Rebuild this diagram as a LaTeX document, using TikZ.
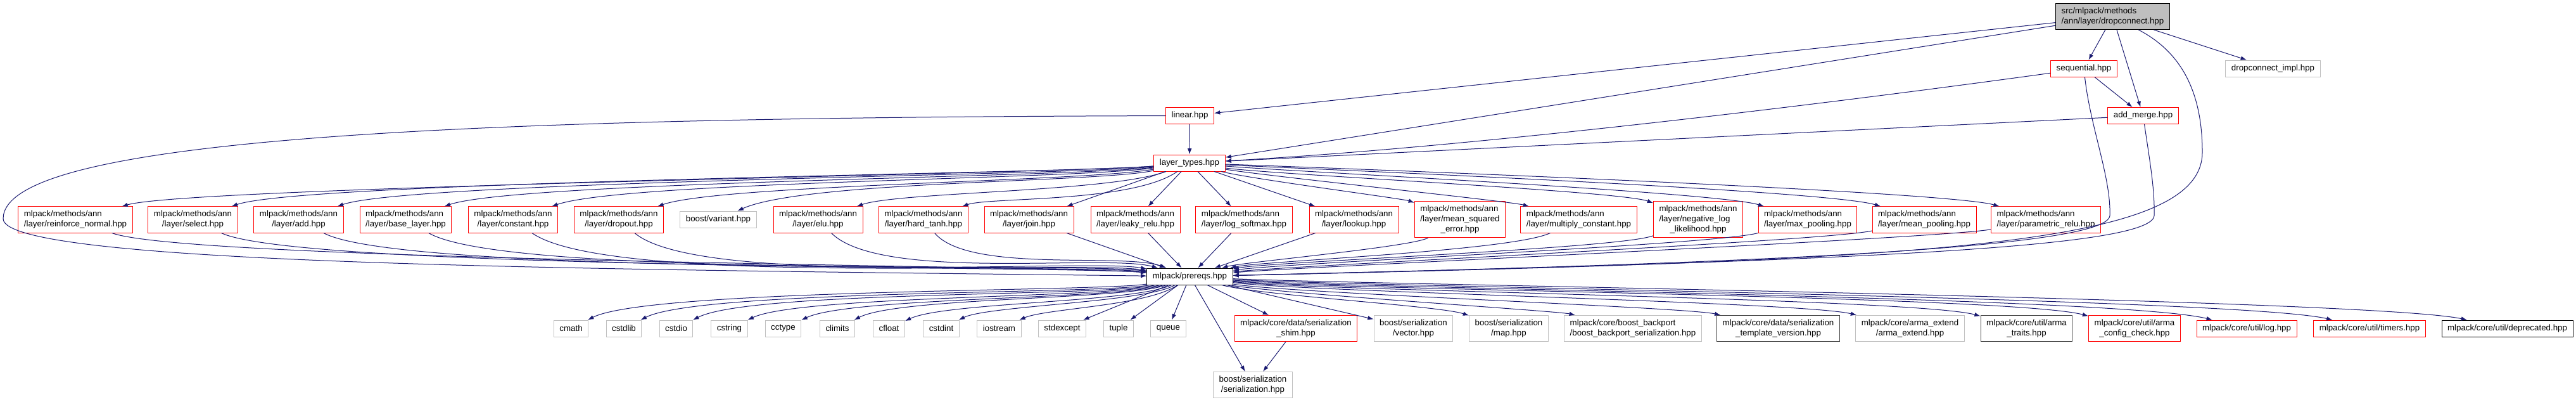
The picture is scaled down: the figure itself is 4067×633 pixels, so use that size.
\documentclass[tikz,border=0pt]{standalone}
\usepackage{fontspec}
\setmainfont{Liberation Sans}
\usetikzlibrary{arrows.meta}

\definecolor{edgeblue}{HTML}{191970}
\definecolor{boxgray}{HTML}{BFBFBF}
\definecolor{boxdark}{HTML}{404040}

% labels: upper lines left, last line centred
\newcommand{\lbltwo}[2]{\begin{tabular}{@{}l@{}}#1\\\multicolumn{1}{@{}c@{}}{#2}\end{tabular}}
\newcommand{\lblthree}[3]{\begin{tabular}{@{}l@{}}#1\\#2\\\multicolumn{1}{@{}c@{}}{#3}\end{tabular}}

\begin{document}
\begin{tikzpicture}[
x=0.75pt, y=0.75pt,
>={Latex[length=7pt,width=5pt]},
every node/.style={
draw,
fill=white,
line width=0.75pt,
font=\fontsize{10}{12}\selectfont,
inner xsep=6.75pt,
inner ysep=3.4pt,
minimum height=19.5pt
},
redbox/.style={draw=red},
graybox/.style={draw=boxgray},
darkbox/.style={draw=boxdark},
rootbox/.style={fill=boxgray, draw=black},
incl/.style={->, draw=edgeblue, line width=0.75pt}
]
\useasboundingbox (0,0) rectangle (4067,-633);

\node[rootbox] (root) at (3335.5,-26) {\lbltwo{src/mlpack/methods}{/ann/layer/dropconnect.hpp}};

\node[redbox] (seq) at (3290,-108) {sequential.hpp};
\node[graybox] (dci) at (3588.5,-108) {dropconnect\_impl.hpp};
\node[redbox] (am) at (3383.5,-182.5) {add\_merge.hpp};

\node[redbox] (lin) at (1878.5,-182.5) {linear.hpp};
\node[redbox] (lt) at (1878,-257) {layer\_types.hpp};

\node[redbox] (rn) at (119,-346.5) {\lbltwo{mlpack/methods/ann}{/layer/reinforce\_normal.hpp}};
\node[redbox] (sel) at (304.5,-346.5) {\lbltwo{mlpack/methods/ann}{/layer/select.hpp}};
\node[redbox] (add) at (471.5,-346.5) {\lbltwo{mlpack/methods/ann}{/layer/add.hpp}};
\node[redbox] (base) at (640.5,-346.5) {\lbltwo{mlpack/methods/ann}{/layer/base\_layer.hpp}};
\node[redbox] (cons) at (810,-346.5) {\lbltwo{mlpack/methods/ann}{/layer/constant.hpp}};
\node[redbox] (drop) at (977,-346.5) {\lbltwo{mlpack/methods/ann}{/layer/dropout.hpp}};
\node[graybox] (var) at (1134,-346) {boost/variant.hpp};
\node[redbox] (elu) at (1291.5,-346.5) {\lbltwo{mlpack/methods/ann}{/layer/elu.hpp}};
\node[redbox] (ht) at (1458,-346.5) {\lbltwo{mlpack/methods/ann}{/layer/hard\_tanh.hpp}};
\node[redbox] (join) at (1624.5,-346.5) {\lbltwo{mlpack/methods/ann}{/layer/join.hpp}};
\node[redbox] (lrelu) at (1792.5,-346.5) {\lbltwo{mlpack/methods/ann}{/layer/leaky\_relu.hpp}};
\node[redbox] (lsm) at (1964,-346.5) {\lbltwo{mlpack/methods/ann}{/layer/log\_softmax.hpp}};
\node[redbox] (lkp) at (2137.5,-346.5) {\lbltwo{mlpack/methods/ann}{/layer/lookup.hpp}};
\node[redbox] (mse) at (2305,-346) {\lblthree{mlpack/methods/ann}{/layer/mean\_squared}{\_error.hpp}};
\node[redbox] (mulc) at (2492.5,-346.5) {\lbltwo{mlpack/methods/ann}{/layer/multiply\_constant.hpp}};
\node[redbox] (nll) at (2681,-346) {\lblthree{mlpack/methods/ann}{/layer/negative\_log}{\_likelihood.hpp}};
\node[redbox] (maxp) at (2854,-346.5) {\lbltwo{mlpack/methods/ann}{/layer/max\_pooling.hpp}};
\node[redbox] (meanp) at (3038,-346.5) {\lbltwo{mlpack/methods/ann}{/layer/mean\_pooling.hpp}};
\node[redbox] (prelu) at (3230,-346.5) {\lbltwo{mlpack/methods/ann}{/layer/parametric\_relu.hpp}};

\node[draw=black] (pr) at (1878.5,-436) {mlpack/prereqs.hpp};

\node[graybox] (cmath) at (901.5,-518) {cmath};
\node[graybox] (cstdlib) at (985,-518) {cstdlib};
\node[graybox] (cstdio) at (1067.5,-518) {cstdio};
\node[graybox] (cstring) at (1151.5,-518) {cstring};
\node[graybox] (cctype) at (1236.5,-518) {cctype};
\node[graybox] (climits) at (1322,-518) {climits};
\node[graybox] (cfloat) at (1403.5,-518) {cfloat};
\node[graybox] (cstdint) at (1486,-518) {cstdint};
\node[graybox] (iostream) at (1577.5,-518) {iostream};
\node[graybox] (stdexc) at (1677,-518) {stdexcept};
\node[graybox] (tuple) at (1766,-518) {tuple};
\node[graybox] (queue) at (1844.5,-518) {queue};
\node[redbox] (shim) at (2046,-518) {\lbltwo{mlpack/core/data/serialization}{\_shim.hpp}};
\node[graybox] (vec) at (2231.5,-518) {\lbltwo{boost/serialization}{/vector.hpp}};
\node[graybox] (map) at (2382,-518) {\lbltwo{boost/serialization}{/map.hpp}};
\node[graybox] (bbs) at (2578,-518) {\lbltwo{mlpack/core/boost\_backport}{/boost\_backport\_serialization.hpp}};
\node[darkbox] (stv) at (2807.5,-518) {\lbltwo{mlpack/core/data/serialization}{\_template\_version.hpp}};
\node[graybox] (ae) at (3015.5,-518) {\lbltwo{mlpack/core/arma\_extend}{/arma\_extend.hpp}};
\node[darkbox] (atr) at (3199.5,-518) {\lbltwo{mlpack/core/util/arma}{\_traits.hpp}};
\node[redbox] (acc) at (3370,-518) {\lbltwo{mlpack/core/util/arma}{\_config\_check.hpp}};
\node[redbox] (log) at (3547,-518) {mlpack/core/util/log.hpp};
\node[redbox] (timers) at (3741,-518) {mlpack/core/util/timers.hpp};
\node[draw=black] (depr) at (3958.5,-518) {mlpack/core/util/deprecated.hpp};

\node[graybox] (ser) at (1978,-607) {\lbltwo{boost/serialization}{/serialization.hpp}};

% top part
\draw[incl] (root) -- (lin);
\draw[incl] (root) -- (lt);
\draw[incl] (root) -- (seq);
\draw[incl] (root) -- (am);
\draw[incl] (root) -- (dci);
\draw[incl] (root) .. controls (3440,-80) and (3477,-140) .. (3477,-240) .. controls (3477,-390) and (3050,-410) .. (pr);
\draw[incl] (seq) -- (am);
\draw[incl] (seq) .. controls +(-400,-55) and +(450,25) .. (lt);
\draw[incl] (seq) .. controls (3300,-200) and (3333,-280) .. (3331,-340) .. controls (3328,-390) and (2800,-415) .. (pr);
\draw[incl] (am) -- (lt);
\draw[incl] (am) .. controls (3395,-260) and (3402,-300) .. (3401,-340) .. controls (3398,-392) and (2900,-412) .. (pr);
\draw[incl] (lin) -- (lt);
\draw[incl] (lin) .. controls (700,-185) and (5,-220) .. (5,-345) .. controls (5,-420) and (1000,-425) .. (pr);

% layer_types to the layers
\draw[incl] (lt) .. controls +(185:190) and +(16:190) .. (rn);
\draw[incl] (lt) .. controls +(185:190) and +(19:188) .. (sel);
\draw[incl] (lt) .. controls +(186:187) and +(19:187) .. (add);
\draw[incl] (lt) .. controls +(187:184) and +(19:184) .. (base);
\draw[incl] (lt) .. controls +(188:185) and +(19:185) .. (cons);
\draw[incl] (lt) .. controls +(190:170) and +(19:170) .. (drop);
\draw[incl] (lt) .. controls +(192:150) and +(24:150) .. (var);
\draw[incl] (lt) .. controls +(200:135) and +(19:135) .. (elu);
\draw[incl] (lt) .. controls +(215:110) and +(19:110) .. (ht);
\draw[incl] (lt) -- (join);
\draw[incl] (lt) -- (lrelu);
\draw[incl] (lt) -- (lsm);
\draw[incl] (lt) -- (lkp);
\draw[incl] (lt) .. controls +(-15:95) and +(160:95) .. (mse);
\draw[incl] (lt) .. controls +(-10:112) and +(165:112) .. (mulc);
\draw[incl] (lt) .. controls +(-8:131) and +(160:131) .. (nll);
\draw[incl] (lt) .. controls +(-5:150) and +(163:150) .. (maxp);
\draw[incl] (lt) .. controls +(-3:162) and +(163:162) .. (meanp);
\draw[incl] (lt) .. controls +(-2:168) and +(164:168) .. (prelu);

% layers to prereqs
\draw[incl] (rn) .. controls +(-20:192) and +(175:192) .. (pr);
\draw[incl] (sel) .. controls +(-25:187) and +(175:187) .. (pr);
\draw[incl] (add) .. controls +(-28:186) and +(174:186) .. (pr);
\draw[incl] (base) .. controls +(-30:184) and +(173:184) .. (pr);
\draw[incl] (cons) .. controls +(-35:185) and +(172:185) .. (pr);
\draw[incl] (drop) .. controls +(-40:167) and +(170:167) .. (pr);
\draw[incl] (elu) .. controls +(-45:139) and +(165:139) .. (pr);
\draw[incl] (ht) .. controls +(-50:111) and +(160:111) .. (pr);
\draw[incl] (join) -- (pr);
\draw[incl] (lrelu) -- (pr);
\draw[incl] (lsm) -- (pr);
\draw[incl] (lkp) -- (pr);
\draw[incl] (mse) .. controls +(210:87) and +(15:87) .. (pr);
\draw[incl] (mulc) .. controls +(205:117) and +(12:117) .. (pr);
\draw[incl] (nll) .. controls +(200:135) and +(10:135) .. (pr);
\draw[incl] (maxp) .. controls +(195:154) and +(8:154) .. (pr);
\draw[incl] (meanp) .. controls +(192:165) and +(6:165) .. (pr);
\draw[incl] (prelu) .. controls +(190:171) and +(5:171) .. (pr);

% prereqs to the bottom row
\draw[incl] (pr) .. controls +(190:138) and +(27:138) .. (cmath);
\draw[incl] (pr) .. controls +(192:135) and +(27:135) .. (cstdlib);
\draw[incl] (pr) .. controls +(194:132) and +(27:132) .. (cstdio);
\draw[incl] (pr) .. controls +(196:124) and +(25:124) .. (cstring);
\draw[incl] (pr) .. controls +(198:118) and +(25:118) .. (cctype);
\draw[incl] (pr) .. controls +(200:109) and +(27:109) .. (climits);
\draw[incl] (pr) .. controls +(205:98) and +(25:98) .. (cfloat);
\draw[incl] (pr) .. controls +(210:82) and +(26:82) .. (cstdint);
\draw[incl] (pr) .. controls +(215:81) and +(23:81) .. (iostream);
\draw[incl] (pr) -- (stdexc);
\draw[incl] (pr) -- (tuple);
\draw[incl] (pr) -- (queue);
\draw[incl] (pr) -- (ser);
\draw[incl] (pr) -- (shim);
\draw[incl] (pr) -- (vec);
\draw[incl] (pr) .. controls +(-15:117) and +(162:117) .. (map);
\draw[incl] (pr) .. controls +(-12:123) and +(167:123) .. (bbs);
\draw[incl] (pr) .. controls +(-10:149) and +(167:149) .. (stv);
\draw[incl] (pr) .. controls +(-8:173) and +(166:173) .. (ae);
\draw[incl] (pr) .. controls +(-7:184) and +(165:184) .. (atr);
\draw[incl] (pr) .. controls +(-6:200) and +(165:200) .. (acc);
\draw[incl] (pr) .. controls +(-5:211) and +(166:211) .. (log);
\draw[incl] (pr) .. controls +(-4:217) and +(167:217) .. (timers);
\draw[incl] (pr) .. controls +(-3:228) and +(168:228) .. (depr);
\draw[incl] (shim) -- (ser);

\end{tikzpicture}
\end{document}
